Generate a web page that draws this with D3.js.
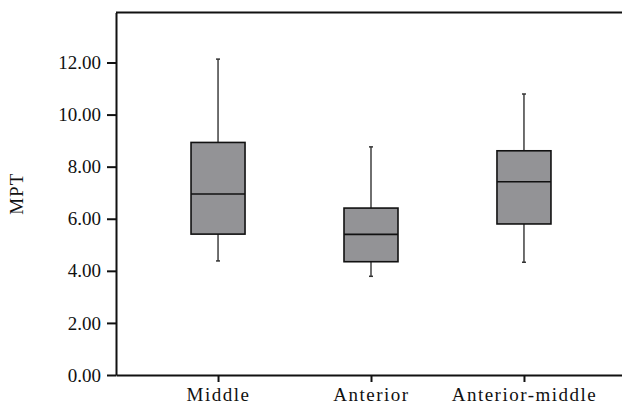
<!DOCTYPE html>
<html>
<head>
<meta charset="utf-8">
<script src="https://cdn.jsdelivr.net/npm/d3@7"></script>
<style>
  html, body { margin: 0; padding: 0; background: #fff; }
  svg { display: block; }
  text { font-family: "Liberation Serif", "Times New Roman", serif; fill: #111; }
</style>
</head>
<body>
<svg id="chart" width="622" height="407"></svg>
<script>
// Box plot of MPT by group
const categories = ["Middle", "Anterior", "Anterior-middle"];
const whiskerLow  = [4.38, 3.79, 4.33];
const q1          = [5.41, 4.35, 5.80];
const median      = [6.95, 5.40, 7.42];
const q3          = [8.93, 6.41, 8.61];
const whiskerHigh = [12.13, 8.76, 10.79];
const yTicks = [0, 2, 4, 6, 8, 10, 12];
const yTitle = "MPT";

const rows = categories.map((c, i) => ({
  cat: c, lo: whiskerLow[i], q1: q1[i], med: median[i], q3: q3[i], hi: whiskerHigh[i]
}));

const svg = d3.select("#chart");
const plotLeft = 116, plotRight = 626, plotTop = 12.5, plotBottom = 375;
const yMax = 13.92;

const y = d3.scaleLinear().domain([0, yMax]).range([plotBottom, plotTop]);
const x = d3.scalePoint().domain(categories).range([plotLeft, plotRight]).padding(0.667);
const boxW = 54;

// frame top line
svg.append("line")
  .attr("x1", plotLeft).attr("x2", 622)
  .attr("y1", y(yMax)).attr("y2", y(yMax))
  .attr("stroke", "#111").attr("stroke-width", 2);

// y axis
const yAxis = svg.append("g")
  .attr("transform", `translate(${plotLeft},0)`)
  .call(d3.axisLeft(y).tickValues(yTicks).tickFormat(d3.format(".2f"))
    .tickSize(9).tickSizeOuter(0).tickPadding(6));
yAxis.select(".domain").attr("stroke", "#111").attr("stroke-width", 2);
yAxis.selectAll(".tick line").attr("stroke", "#111").attr("stroke-width", 2);
yAxis.selectAll("text").attr("font-size", 19)
  .attr("font-family", "Liberation Serif, serif").attr("fill", "#111");

// x axis
const xAxis = svg.append("g")
  .attr("transform", `translate(0,${plotBottom})`)
  .call(d3.axisBottom(x).tickSize(7).tickSizeOuter(0).tickPadding(6));
xAxis.select(".domain").attr("stroke", "#111").attr("stroke-width", 2);
xAxis.selectAll(".tick line").attr("stroke", "#111").attr("stroke-width", 2);
xAxis.selectAll("text").attr("font-size", 19).attr("letter-spacing", 1.5)
  .attr("font-family", "Liberation Serif, serif").attr("fill", "#111");

// y title
svg.append("text")
  .attr("transform", `translate(23,${(plotTop + plotBottom) / 2}) rotate(-90)`)
  .attr("text-anchor", "middle")
  .attr("font-size", 19)
  .attr("letter-spacing", 1)
  .text(yTitle);

const g = svg.append("g");
const box = g.selectAll("g.box").data(rows).join("g").attr("class", "box");

// whiskers
box.append("line")
  .attr("x1", d => x(d.cat)).attr("x2", d => x(d.cat))
  .attr("y1", d => y(d.hi)).attr("y2", d => y(d.q3))
  .attr("stroke", "#222").attr("stroke-width", 1.3);
box.append("line")
  .attr("x1", d => x(d.cat)).attr("x2", d => x(d.cat))
  .attr("y1", d => y(d.q1)).attr("y2", d => y(d.lo))
  .attr("stroke", "#222").attr("stroke-width", 1.3);
// tiny caps
box.selectAll("line.cap").data(d => [[d.cat, d.hi], [d.cat, d.lo]]).join("line")
  .attr("class", "cap")
  .attr("x1", d => x(d[0]) - 2).attr("x2", d => x(d[0]) + 2)
  .attr("y1", d => y(d[1])).attr("y2", d => y(d[1]))
  .attr("stroke", "#333").attr("stroke-width", 1.5);

// boxes
box.append("rect")
  .attr("x", d => x(d.cat) - boxW / 2)
  .attr("width", boxW)
  .attr("y", d => y(d.q3))
  .attr("height", d => y(d.q1) - y(d.q3))
  .attr("fill", "#939396")
  .attr("stroke", "#111").attr("stroke-width", 1.6);

// medians
box.append("line")
  .attr("x1", d => x(d.cat) - boxW / 2).attr("x2", d => x(d.cat) + boxW / 2)
  .attr("y1", d => y(d.med)).attr("y2", d => y(d.med))
  .attr("stroke", "#111").attr("stroke-width", 1.6);
</script>
</body>
</html>
